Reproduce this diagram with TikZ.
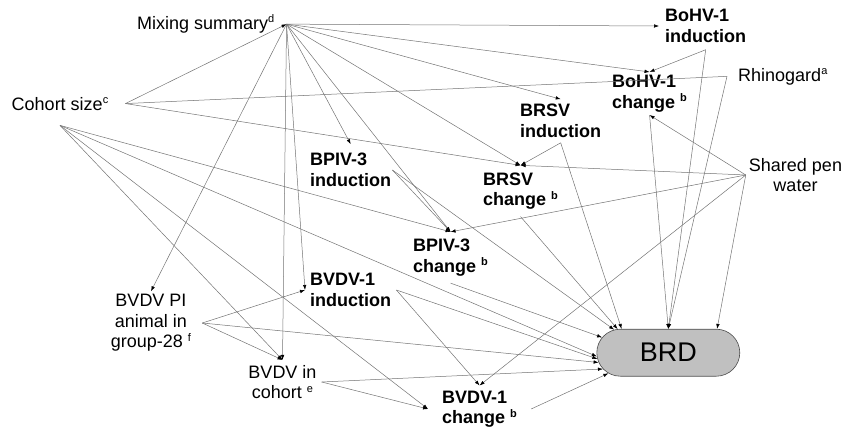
\documentclass[tikz,border=0pt]{standalone}
\usepackage{fontspec}
\setmainfont{Liberation Sans}
\usetikzlibrary{arrows.meta,shapes.misc}
\newcommand\supx[1]{\raisebox{6.5pt}{\fontsize{11}{11}\selectfont #1}}
\begin{document}
\begin{tikzpicture}[x=1pt,y=-1pt,
  lbl/.style={font=\fontsize{18}{20.5}\selectfont, inner sep=0pt},
  bl/.style={font=\fontsize{18}{20.5}\selectfont\bfseries, align=left, inner sep=0pt},
  wire/.style={draw=black!55, line width=0.5pt},
  conn/.style={wire, -{Latex[length=5pt,width=3.5pt,color=black]}},
  brdbox/.style={rounded rectangle, minimum width=143pt, minimum height=47pt, inner sep=0pt,
    fill={rgb,255:red,192;green,192;blue,192}, draw=black!70, line width=0.6pt,
    font=\fontsize{27}{30}\selectfont}
]
\path[use as bounding box] (0,0) rectangle (844,431);

% ---- nodes ----
\node[lbl, anchor=base west, inner xsep=12pt] (mix) at (125,29.5) {Mixing summary\supx{d}};
\node[lbl, anchor=base, inner xsep=17pt, inner ysep=15pt] (coh) at (60,110) {Cohort size\supx{c}};
\node[lbl, anchor=base west, inner xsep=11pt] (rhino) at (727,81) {Rhinogard\supx{a}};
\node[bl, anchor=west, inner xsep=6pt, inner ysep=7pt] (bohvi) at (659,26) {BoHV-1\\induction};
\node[bl, anchor=west, inner xsep=2pt, inner ysep=3pt] (bohvc) at (610,93.5) {BoHV-1\\change \supx{b}};
\node[bl, anchor=west, inner xsep=2pt, inner ysep=5pt] (brsvi) at (518,121) {BRSV\\induction};
\node[bl, anchor=west, inner xsep=2pt, inner ysep=7pt] (brsvc) at (481,191) {BRSV\\change \supx{b}};
\node[bl, anchor=west, inner xsep=1pt, inner ysep=9pt] (bpivi) at (309,170) {BPIV-3\\induction};
\node[bl, anchor=west, inner xsep=2pt, inner ysep=7pt] (bpivc) at (411,257.5) {BPIV-3\\change \supx{b}};
\node[bl, anchor=west, inner xsep=5pt, inner ysep=4pt] (bvdvi) at (305,290) {BVDV-1\\induction};
\node[bl, anchor=west, inner xsep=14pt, inner ysep=5pt] (bvdvc) at (428,409) {BVDV-1\\change \supx{b}};
\node[lbl, align=center, inner xsep=11pt, inner ysep=3pt] (bvdvpi) at (151,323) {BVDV PI\\animal in\\group-28 \supx{f}};
\node[lbl, align=center, inner xsep=5pt, inner ysep=5pt] (bvdvcoh) at (282.5,382) {BVDV in\\cohort \supx{e}};
\node[lbl, align=center, inner xsep=3pt] (spw) at (795.5,175) {Shared pen\\water};
\node[brdbox] (brd) at (668.3,352.7) {BRD};

% ---- connectors ----
\draw[conn] (coh.east) -- (mix.east);
\draw[wire] (coh.east) -- (rhino.west);
\draw[conn] (coh.east) -- (brsvc.north);
\draw[conn] (coh.south) -- (bpivc.north);
\draw[conn] (coh.south) -- (brd.183.1);
\draw[conn] (coh.south) -- (bvdvc.west);
\draw[conn] (coh.south) -- (bvdvcoh.north);

\draw[conn] (mix.east) -- (bohvi.west);
\draw[conn] (mix.east) -- (bohvc.north);
\draw[conn] (mix.east) -- (brsvi.north);
\draw[conn] (mix.east) -- (brsvc.north);
\draw[conn] (mix.east) -- (bpivc.north);
\draw[conn] (mix.east) -- (bpivi.north);
\draw[conn] (mix.east) -- (bvdvi.west);
\draw[conn] (mix.east) -- (bvdvcoh.north);
\draw[conn] (mix.east) -- (bvdvpi.north);

\draw[conn] (bohvi.south) -- (bohvc.north);
\draw[conn] (bohvi.south) -- (brd.north);
\draw[conn] (rhino.west) -- (brd.north);
\draw[conn] (bohvc.south) -- (brd.north);

\draw[conn] (spw.west) -- (bohvc.south);
\draw[conn] (spw.west) -- (brsvc.north);
\draw[conn] (spw.west) -- (bpivc.north);
\draw[conn] (spw.west) -- (bvdvc.north);
\draw[conn] (spw.west) -- (brd.26.4);

\draw[conn] (brsvi.south) -- (brsvc.north);
\draw[conn] (brsvi.south) -- (brd.153.9);
\draw[conn] (brsvc.south) -- (brd.155.6);
\draw[conn] (bpivi.east) -- (bpivc.north);
\draw[conn] (bpivi.east) -- (brd.157.5);
\draw[conn] (bpivc.south) -- (brd.167.9);
\draw[conn] (bvdvi.east) -- (bvdvc.north);
\draw[conn] (bvdvi.east) -- (brd.185.6);
\draw[conn] (bvdvpi.east) -- (bvdvi.west);
\draw[conn] (bvdvpi.east) -- (brd.188.8);
\draw[conn] (bvdvpi.east) -- (bvdvcoh.north);
\draw[conn] (bvdvcoh.east) -- (bvdvc.west);
\draw[conn] (bvdvcoh.east) -- (brd.194.7);
\draw[conn] (bvdvc.east) -- (brd.199);
\end{tikzpicture}
\end{document}
